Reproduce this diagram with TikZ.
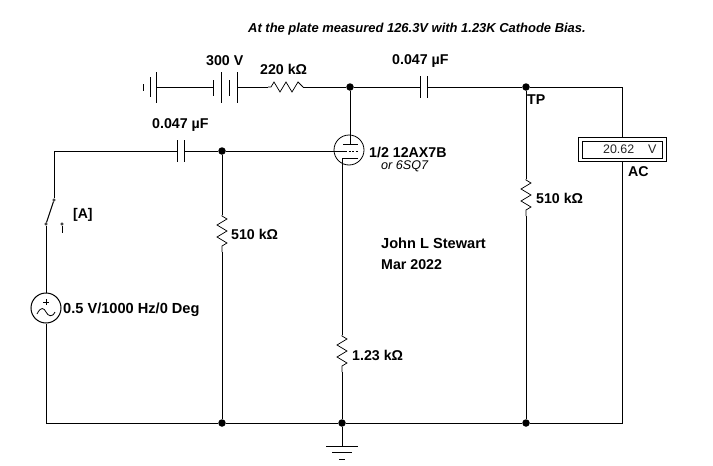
\documentclass[tikz,border=0pt]{standalone}
\usepackage{fontspec}
\setmainfont{Liberation Sans}
\usetikzlibrary{arrows.meta}
\begin{document}
\begin{tikzpicture}[x=1pt,y=-1pt,
  wire/.style={line width=1pt,black},
  thin part/.style={line width=0.75pt,black},
  dotnode/.style={circle,fill=black,inner sep=0pt,minimum size=7.5pt},
  pin/.style={circle,draw=black,fill=white,line width=0.6pt,inner sep=0pt,minimum size=2.5pt},
  lab/.style={font=\fontsize{14.2}{16}\selectfont\bfseries,inner sep=0pt,anchor=west},
  ilab/.style={font=\fontsize{12.95}{15}\selectfont\bfseries\itshape,inner sep=0pt,anchor=west}]
\useasboundingbox (0,0) rectangle (713,466);
\fill[white] (0,0) rectangle (713,466);
% junctions
\node[dotnode] (jp) at (350,87) {};
\node[dotnode] (jtp) at (526,87) {};
\node[dotnode] (jg) at (222,151) {};
\node[dotnode] (jb1) at (222,423) {};
\node[dotnode] (jb2) at (342,423) {};
\node[dotnode] (jb3) at (526,423) {};
% named coordinates
\coordinate (bl) at (46,423);
\coordinate (br) at (622,423);
\coordinate (tr) at (622,87);
\coordinate (tl) at (54,151);
\coordinate (b1p) at (156,87);
\coordinate (b2n) at (213,87);
\coordinate (b2p) at (237,87);
\coordinate (r1a) at (268,87);
\coordinate (r1b) at (303,87);
\coordinate (c1a) at (420,87);
\coordinate (c1b) at (427,87);
\coordinate (c2a) at (177,151);
\coordinate (c2b) at (184,151);
\coordinate (gridin) at (334,151);
\coordinate (plate) at (350,144);
\coordinate (cath) at (342,158);
\coordinate (rka) at (342,335);
\coordinate (rkb) at (342,372);
\coordinate (rga) at (222,215);
\coordinate (rgb) at (222,252);
\coordinate (rpa) at (526,179);
\coordinate (rpb) at (526,216);
\coordinate (gnd) at (342,446);
% meter
\node[draw=black,fill=white,line width=1pt,minimum width=88pt,minimum height=24pt,inner sep=0pt] (meter) at (622.5,149) {};
\node[draw=black,line width=1pt,minimum width=80pt,minimum height=17pt,inner sep=0pt] (meterin) at (622.5,149.5) {};
\node[font=\fontsize{12.4}{14}\selectfont,text=black!85,inner sep=0pt,anchor=west] (mval) at (603,149.5) {20.62};
\node[font=\fontsize{12.5}{14}\selectfont,text=black!85,inner sep=0pt,anchor=west] (mv) at (648,149.5) {V};
% source
\node[draw=black,circle,line width=1pt,minimum size=30pt,inner sep=0pt] (src) at (46,308) {};
\node[pin] (swt) at (54,200) {};
\node[pin] (swb) at (46,224) {};
\node[pin] (swo) at (62,224) {};
\coordinate (swo2) at (62,233);
% wires
\draw[wire] (b1p) -- (b2n);
\draw[wire] (b2p) -- (r1a);
\draw[wire] (r1b) -- (jp) -- (c1a);
\draw[wire] (c1b) -- (jtp) -- (tr) -- (meter.north -| tr);
\draw[wire] (meter.south -| tr) -- (br) -- (jb3) -- (jb2) -- (jb1) -- (bl) -- (src.south);
\draw[wire] (src.north) -- (swb);
\draw[wire] (swb) -- (swt);
\draw[wire] (swt) -- (tl) -- (c2a);
\draw[wire] (c2b) -- (jg) -- (gridin);
\draw[wire] (swo) -- (swo2);
\draw[wire] (jp) -- (plate);
\draw[wire] (cath) -- (rka);
\draw[wire] (rkb) -- (jb2) -- (gnd);
\draw[wire] (jg) -- (rga);
\draw[wire] (rgb) -- (jb1);
\draw[wire] (jtp) -- (rpa);
\draw[wire] (rpb) -- (jb3);
% batteries
\draw[wire] (143.5,84) -- (143.5,91);
\draw[wire] (150,77) -- (150,97);
\draw[wire] (156,72) -- (156,103);
\draw[wire] (213,80) -- (213,96);
\draw[wire] (221,72) -- (221,103);
\draw[wire] (229,80) -- (229,96);
\draw[wire] (237,72) -- (237,103);
% resistors
\draw[thin part] (r1a) -- ++(3,0) -- ++(3,-5) -- ++(6,10) -- ++(6,-10) -- ++(6,10) -- ++(6,-10) -- (r1b);
\draw[thin part] (rka) -- ++(0,1) -- ++(5,3) -- ++(-10,6) -- ++(10,6) -- ++(-10,6) -- ++(10,6) -- ++(-5,3) -- (rkb);
\draw[thin part] (rga) -- ++(0,1) -- ++(5,3) -- ++(-10,6) -- ++(10,6) -- ++(-10,6) -- ++(10,6) -- ++(-5,3) -- (rgb);
\draw[thin part] (rpa) -- ++(0,1) -- ++(5,3) -- ++(-10,6) -- ++(10,6) -- ++(-10,6) -- ++(10,6) -- ++(-5,3) -- (rpb);
% capacitors
\draw[wire] (c1a) ++(0,-11) -- ++(0,22);
\draw[wire] (c1b) ++(0,-11) -- ++(0,22);
\draw[wire] (c2a) ++(0,-11) -- ++(0,22);
\draw[wire] (c2b) ++(0,-11) -- ++(0,22);
% tube
\draw[line width=0.8pt] (349,150) circle (15);
\draw[wire] (343,144) -- (358,144);
\draw[line width=1pt,dash pattern=on 2pt off 1.5pt] (345,151) -- (358,151);
\draw[wire] (gridin) -- (345,151);
\draw[wire] (358,158) -- (342,158) -- (342,165);
% ground
\draw[wire] (326,446) -- (358,446);
\draw[wire] (332,452.5) -- (352,452.5);
\draw[wire] (339,459) -- (345,459);
% source glyph
\draw[line width=0.8pt] (46,299) -- (46,305) (43,302) -- (49,302);
\draw[line width=0.8pt] (37,314) .. controls (41,306) and (44,308) .. (46,312) .. controls (48,316) and (52,318) .. (55,312);
% labels
\node[ilab] (title) at (248,29.5) {At the plate measured 126.3V with 1.23K Cathode Bias.};
\node[lab] (l300) at (206,61) {300 V};
\node[lab] (l220) at (260,69) {220 kΩ};
\node[lab] (lc1) at (392,61) {0.047 µF};
\node[lab] (lc2) at (152,125) {0.047 µF};
\node[lab] (ltp) at (527,99.5) {TP};
\node[lab] (lac) at (628,172) {AC};
\node[lab] (ltube) at (369,152) {1/2 12AX7B};
\node[font=\fontsize{12.6}{14}\selectfont\itshape,inner sep=0pt,anchor=west] (lor) at (381,166) {or 6SQ7};
\node[lab,font=\fontsize{14}{16}\selectfont\bfseries] (la) at (73,214.5) {[A]};
\node[lab] (lrg) at (231,234) {510 kΩ};
\node[lab] (lrp) at (536,198) {510 kΩ};
\node[lab] (lrk) at (352,355) {1.23 kΩ};
\node[lab,font=\fontsize{14.6}{16}\selectfont\bfseries] (lsrc) at (63,310) {0.5 V/1000 Hz/0 Deg};
\node[lab,font=\fontsize{14.6}{16}\selectfont\bfseries] (lj) at (381,243) {John L Stewart};
\node[lab] (lm) at (381,265) {Mar 2022};
\end{tikzpicture}
\end{document}
